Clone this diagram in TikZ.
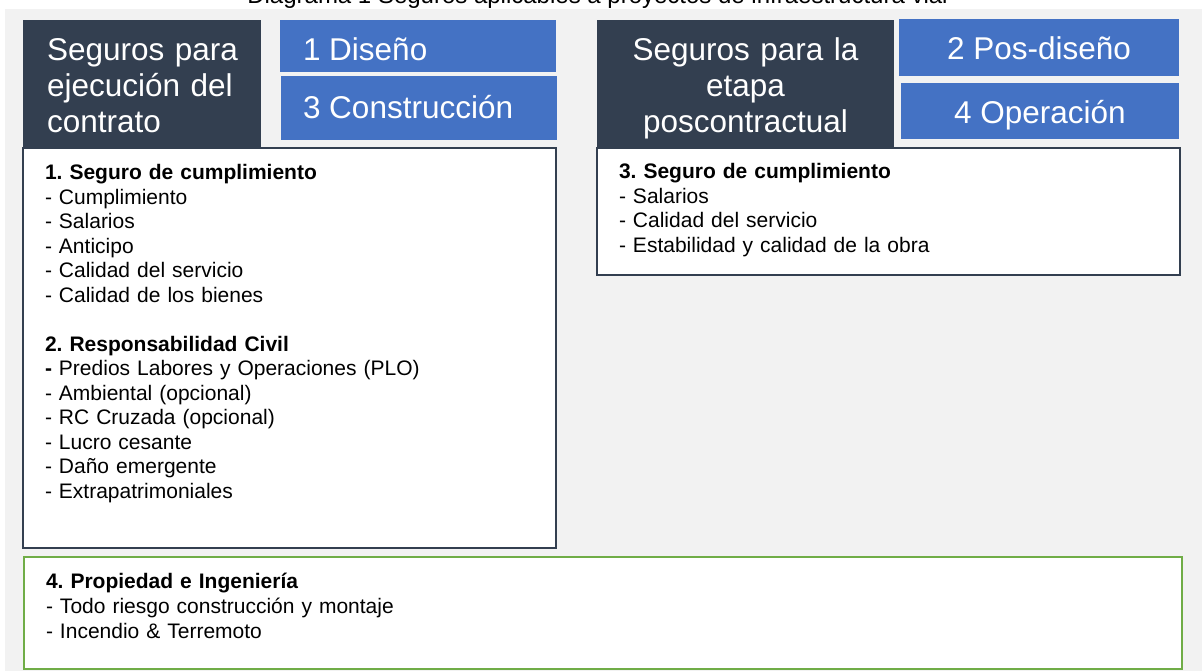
\documentclass[tikz,border=0pt]{standalone}
\usepackage{fontspec}
\setmainfont{Liberation Sans}
\frenchspacing
\definecolor{bggray}{HTML}{F2F2F2}
\definecolor{navy}{HTML}{333F50}
\definecolor{officeblue}{HTML}{4472C4}
\definecolor{officegreen}{HTML}{70AD47}
\begin{document}
\begin{tikzpicture}[x=1pt,y=-1pt,
  every node/.style={inner sep=0pt, outer sep=0pt},
  darkbox/.style={fill=navy, draw=none, anchor=north west},
  bluebox/.style={fill=officeblue, draw=none, anchor=north west},
  listbox/.style={fill=white, draw=navy, line width=2pt, anchor=north west},
  greenbox/.style={fill=white, draw=officegreen, line width=2.5pt, anchor=north west},
  bigtext/.style={text=white, font=\fontsize{31.5}{36}\selectfont},
  bodytext/.style={font=\fontsize{21}{24.5}\selectfont\frenchspacing, text width=480pt, align=left, anchor=base west},
  titletext/.style={font=\fontsize{24}{28}\selectfont, anchor=base}
]
\useasboundingbox (0,0) rectangle (1202,671);
% background
\fill[bggray] (5,9) rectangle (1202,671);
\node[titletext] (title) at (597.5,4) {Diagrama 1 Seguros aplicables a proyectos de infraestructura vial};

% header boxes
\node[darkbox, minimum width=238pt, minimum height=129pt] (hdrL) at (23,20) {};
\node[bluebox, minimum width=276pt, minimum height=52pt] (dis) at (280,20) {};
\node[bluebox, minimum width=276pt, minimum height=64pt] (con) at (281,76) {};
\node[darkbox, minimum width=297pt, minimum height=129pt] (hdrR) at (597,20) {};
\node[bluebox, minimum width=280pt, minimum height=57pt] (pos) at (899,19) {};
\node[bluebox, minimum width=278pt, minimum height=56pt] (ope) at (901,83) {};

% list boxes
\node[listbox, minimum width=533pt, minimum height=400pt] (boxL) at (23,148) {};
\node[listbox, minimum width=583pt, minimum height=127pt] (boxR) at (597,148) {};
\node[greenbox, minimum width=1158pt, minimum height=112pt] (boxG) at (24,557) {};

% header texts
\node[bigtext, anchor=base west, text width=215pt, align=left] (tL) at (47,61)
  {Seguros para\\ejecución del\\contrato};
\node[bigtext, anchor=base, text width=290pt, align=center] (tR) at (745.5,61)
  {Seguros para la\\etapa\\poscontractual};
\node[bigtext, anchor=base west] (tdis) at (303,61) {1 Diseño};
\node[bigtext, anchor=base west] (tcon) at (303,119) {3 Construcción};
\node[bigtext, anchor=base] (tpos) at (1039,60) {2 Pos-diseño};
\node[bigtext, anchor=base] (tope) at (1040,124) {4 Operación};

% list texts
\node[bodytext] (listL) at (45,180) {%
\textbf{1. Seguro de cumplimiento}\\
- Cumplimiento\\
- Salarios\\
- Anticipo\\
- Calidad del servicio\\
- Calidad de los bienes\\[24.5pt]
\textbf{2. Responsabilidad Civil}\\
\textbf{-} Predios Labores y Operaciones (PLO)\\
- Ambiental (opcional)\\
- RC Cruzada (opcional)\\
- Lucro cesante\\
- Daño emergente\\
- Extrapatrimoniales};
\node[bodytext] (listR) at (619,179) {%
\textbf{3. Seguro de cumplimiento}\\
- Salarios\\
- Calidad del servicio\\
- Estabilidad y calidad de la obra};
\node[bodytext, font=\fontsize{21}{25}\selectfont\frenchspacing] (listG) at (46,588) {%
\textbf{4. Propiedad e Ingeniería}\\
- Todo riesgo construcción y montaje\\
- Incendio \& Terremoto};
\end{tikzpicture}
\end{document}
